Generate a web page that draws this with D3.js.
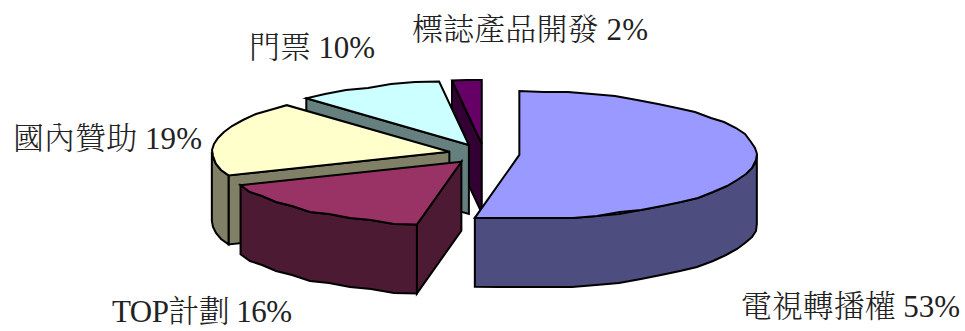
<!DOCTYPE html>
<html lang="zh-Hant">
<head>
<meta charset="utf-8">
<style>
  html, body { margin: 0; padding: 0; background: #fff; }
  svg { display: block; }
  text { font-family: "Liberation Serif", "Noto Serif CJK TC", "Noto Sans CJK TC", serif; font-size: 31px; font-weight: 300; fill: #222; }
</style>
</head>
<body>
<svg id="chart" width="965" height="331"></svg>
<script src="https://cdn.jsdelivr.net/npm/d3@7/dist/d3.min.js"></script>
<script>
// Revenue shares, clockwise from twelve o'clock
const categories = ["電視轉播權", "TOP計劃", "國內贊助", "門票", "標誌產品開發"];
const shares = [53, 16, 19, 10, 2];
const topColors = ["#9999FF", "#993366", "#FFFFCC", "#CCFFFF", "#660066"];
const sideColors = ["#4D4D80", "#4D1A33", "#808066", "#668080", "#330033"];

// Pie geometry: ellipse radii, explosion distance and extrusion height
const centre = { x: 484, y: 154 };
const radius = { x: 237.5, y: 64 };
const explode = { x: 35.5, y: 10 };
const depth = 69;
const labelAnchors = [[741, 317], [112, 322], [13, 149], [249, 58], [412, 40]];
const labelWidths = [219, 180, 189, 126, 236];

const svg = d3.select("#chart");
const sx = d3.scaleLinear().domain([-1, 1]).range([-radius.x, radius.x]);
const sy = d3.scaleLinear().domain([-1, 1]).range([radius.y, -radius.y]);
const ex = d3.scaleLinear().domain([-1, 1]).range([-explode.x, explode.x]);
const ey = d3.scaleLinear().domain([-1, 1]).range([explode.y, -explode.y]);

const arcs = d3.pie().sort(null)(shares);
const line = d3.line();
const STEP = Math.PI / 30;

// Points along an elliptical rim; coarse sampling gives the faceted edge
function rim(c, a0, a1) {
  const n = Math.max(1, Math.ceil((a1 - a0) / STEP));
  return d3.range(n + 1).map(i => {
    const a = a0 + (a1 - a0) * i / n;
    const p = [c.x + sx(Math.sin(a)), c.y + sy(Math.cos(a))];
    return i === 0 || i === n ? p : [Math.round(p[0]), Math.round(p[1] / 2) * 2];
  });
}
const drop = p => [p[0], p[1] + depth];
const spoke = (c, a) => [c.x + sx(Math.sin(a)), c.y + sy(Math.cos(a))];

// Back-to-front painter's order
const order = [4, 3, 2, 1, 0];
order.forEach(i => {
  const d = arcs[i];
  const mid = (d.startAngle + d.endAngle) / 2;
  const c = { x: centre.x + ex(Math.sin(mid)), y: centre.y + ey(Math.cos(mid)) };
  const g = svg.append("g")
    .attr("stroke", "#000").attr("stroke-width", 2).attr("stroke-linejoin", "miter");
  const apex = [c.x, c.y];

  // Radial walls that face the viewer
  [d.startAngle, d.endAngle].forEach((a, k) => {
    const outward = k === 0 ? Math.sin(a) : -Math.sin(a);
    if (outward > 1e-6) return;
    if (Math.abs(Math.sin(a)) < 1e-6) return;
    const r = spoke(c, a);
    g.append("path").attr("fill", sideColors[i])
      .attr("d", line([apex, r, drop(r), drop(apex)]) + "Z");
  });

  // Outer wall: only the front half of the ellipse shows
  const a0 = Math.max(d.startAngle, Math.PI / 2);
  const a1 = Math.min(d.endAngle, Math.PI * 3 / 2);
  if (a1 > a0) {
    const upper = rim(c, a0, a1);
    g.append("path").attr("fill", sideColors[i])
      .attr("d", line(upper.concat(upper.map(drop).reverse())) + "Z");
  }

  // Top face
  g.append("path").attr("fill", topColors[i])
    .attr("d", line([apex].concat(rim(c, d.startAngle, d.endAngle))) + "Z");
});

// Category labels
svg.append("g").selectAll("text").data(categories).join("text")
  .attr("x", (_, i) => labelAnchors[i][0])
  .attr("y", (_, i) => labelAnchors[i][1])
  .attr("textLength", (_, i) => labelWidths[i])
  .attr("lengthAdjust", "spacing")
  .text((name, i) => `${name} ${shares[i]}%`);
</script>
</body>
</html>
